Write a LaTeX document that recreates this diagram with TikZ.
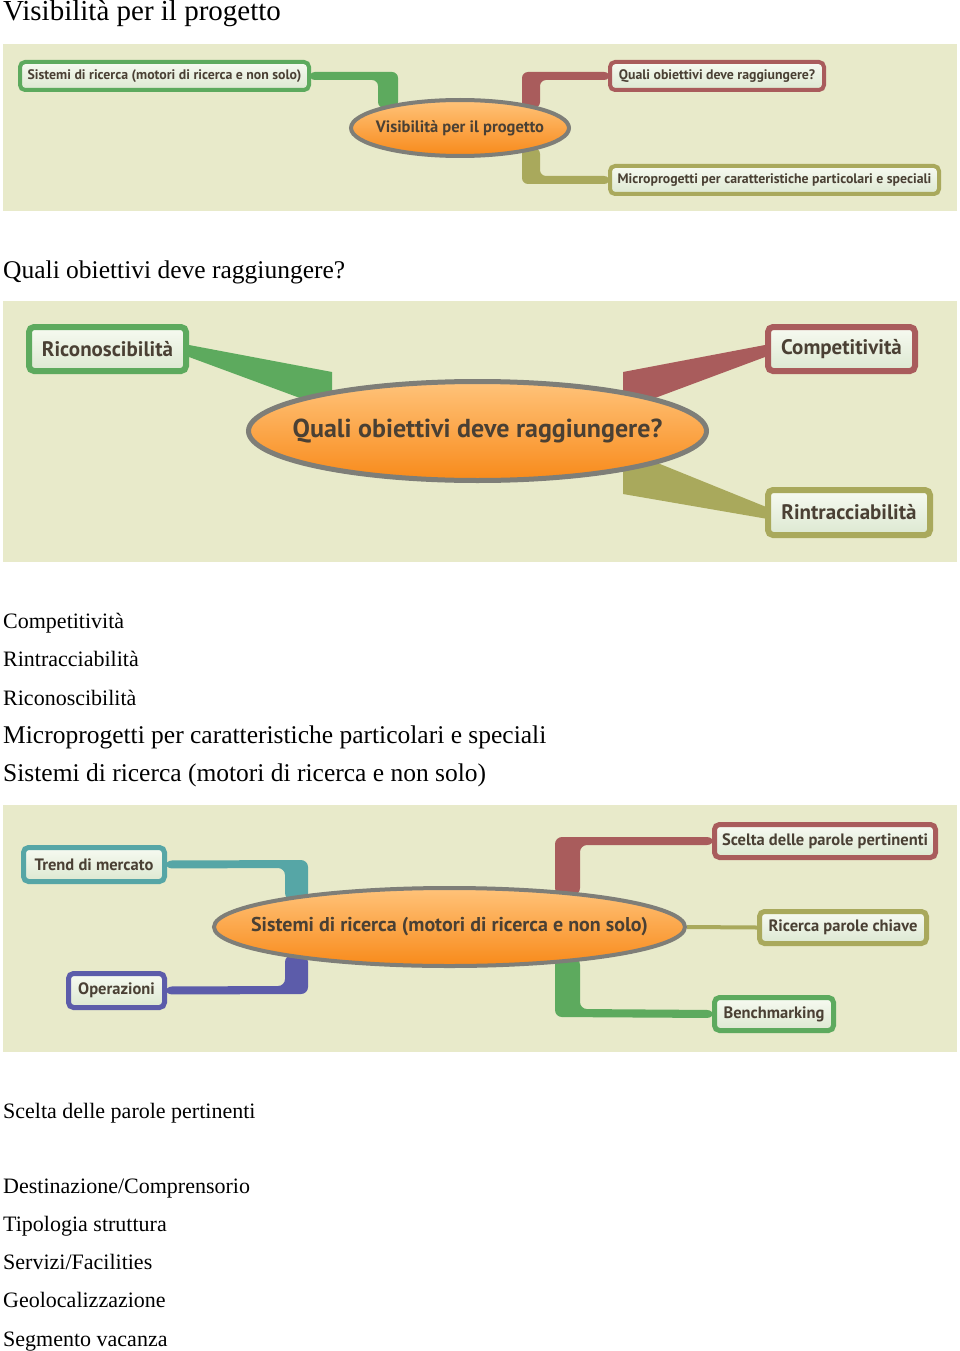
\documentclass[tikz,border=0pt]{standalone}
\usepackage{fontspec}
\setmainfont{Liberation Serif}
\newfontfamily\mapfont{PT Sans}
\usetikzlibrary{shapes.geometric,calc}
\definecolor{panel}{HTML}{E8EACA}
\definecolor{ringgray}{HTML}{7E7E78}
\definecolor{orangetop}{HTML}{FFC37A}
\definecolor{orangebot}{HTML}{F88A1A}
\definecolor{boxtop}{HTML}{F7FAF1}
\definecolor{boxbot}{HTML}{DCE8D1}
\definecolor{maptext}{HTML}{4A4034}
\definecolor{brgreen}{HTML}{5DAA5E}
\definecolor{brred}{HTML}{A95C5C}
\definecolor{brolive}{HTML}{A9A95C}
\definecolor{brteal}{HTML}{56A6A6}
\definecolor{brblue}{HTML}{5C5CAA}
\pgfdeclarelayer{back}
\pgfdeclarelayer{mid}
\pgfsetlayers{back,mid,main}
% text that does not widen the ellipse
\newcommand{\maptitle}[1]{\makebox[0pt][c]{#1}}

\begin{document}
\begin{tikzpicture}[x=1pt,y=-1pt,
	map font/.style={font=\mapfont\bfseries\fontsize{#1}{#1}\selectfont,text=maptext},
	main node/.style={ellipse,draw=ringgray,line width=4pt,top color=orangetop,bottom color=orangebot,inner sep=0pt},
	leaf/.style={rectangle,draw=#1,rounded corners=5pt,top color=boxtop,bottom color=boxbot,inner sep=0pt},
	plain/.style={anchor=base west,inner sep=0pt,font=\fontsize{#1}{#1}\selectfont}]
	\useasboundingbox (0,0) rectangle (960,1351);
	\begin{pgfonlayer}{back}
		\fill[white] (0,0) rectangle (960,1351);
		\fill[panel] (3,44) rectangle (957,211);
		\fill[panel] (3,301) rectangle (957,562);
		\fill[panel] (3,805) rectangle (957,1052);
	\end{pgfonlayer}
	
	% first map
	\node[main node,map font=16.5,minimum width=218pt,minimum height=56pt] (vis) at (460,128) {\maptitle{Visibilità per il progetto}};
	\node[leaf=brgreen,line width=4pt,map font=13.8,minimum width=289pt,minimum height=28pt] (sis) at (164.5,76) {Sistemi di ricerca (motori di ricerca e non solo)};
	\node[leaf=brred,line width=4pt,map font=13.8,minimum width=214pt,minimum height=28pt] (obj) at (717,76) {Quali obiettivi deve raggiungere?};
	\node[leaf=brolive,line width=4pt,map font=13.8,minimum width=329pt,minimum height=28pt] (mic) at (774.5,180) {Microprogetti per caratteristiche particolari e speciali};
	\begin{pgfonlayer}{mid}
		\fill[brgreen,rounded corners=6pt] ($(sis.east)+(-2,-4)$) -- (398,72) -- (398,108) -- (378,108) -- (378,80) -- ($(sis.east)+(-2,4)$) -- cycle;
		\fill[brred,rounded corners=6pt] ($(obj.west)+(2,-4)$) -- (522,72) -- (522,108) -- (540,108) -- (540,80) -- ($(obj.west)+(2,4)$) -- cycle;
		\fill[brolive,rounded corners=6pt] (522,148) -- (522,184) -- ($(mic.west)+(2,4)$) -- ($(mic.west)+(2,-4)$) -- (540,176) -- (540,148) -- cycle;
	\end{pgfonlayer}
	
	% second map
	\node[main node,line width=5pt,map font=26,minimum width=458pt,minimum height=99pt] (goal) at (477.5,431) {\maptitle{Quali obiettivi deve raggiungere?}};
	\node[leaf=brgreen,line width=6pt,map font=21,minimum width=157pt,minimum height=44pt] (ric) at (107.5,349) {Riconoscibilità};
	\node[leaf=brred,line width=6pt,map font=21,minimum width=147pt,minimum height=44pt] (com) at (841.5,349) {Competitività};
	\node[leaf=brolive,line width=6pt,map font=21,minimum width=162pt,minimum height=45pt] (rin) at (849,512.5) {Rintracciabilità};
	\begin{pgfonlayer}{mid}
		\fill[brgreen] ($(ric.east)+(0,-4)$) -- (332,372) -- (332,392) -- (300,398) -- ($(ric.east)+(0,8)$) -- cycle;
		\fill[brred] ($(com.west)+(0,-4)$) -- (623,372) -- (623,392) -- (655,398) -- ($(com.west)+(0,8)$) -- cycle;
		\fill[brolive] (623,466) -- (660,464) -- ($(rin.west)+(0,-6)$) -- ($(rin.west)+(0,6)$) -- (623,494) -- cycle;
	\end{pgfonlayer}
	
	% third map
	\node[main node,map font=20,minimum width=471pt,minimum height=78pt] (eng) at (449.5,927) {\maptitle{Sistemi di ricerca (motori di ricerca e non solo)}};
	\node[leaf=brteal,line width=5pt,map font=16.5,minimum width=141pt,minimum height=34pt] (tre) at (94,864.5) {Trend di mercato};
	\node[leaf=brblue,line width=5pt,map font=16.5,minimum width=96pt,minimum height=34pt] (ope) at (116.5,990.5) {Operazioni};
	\node[leaf=brred,line width=5pt,map font=16.5,minimum width=221pt,minimum height=33pt] (sce) at (825,841) {Scelta delle parole pertinenti};
	\node[leaf=brolive,line width=5pt,map font=16.5,minimum width=167pt,minimum height=32pt] (par) at (843,927.5) {Ricerca parole chiave};
	\node[leaf=brgreen,line width=5pt,map font=16.5,minimum width=119pt,minimum height=33pt] (ben) at (774,1014) {Benchmarking};
	\begin{pgfonlayer}{mid}
		\fill[brteal,rounded corners=7pt] ($(tre.east)+(-2,-4)$) -- (308,860) -- (308,900) -- (285,900) -- (285,868) -- ($(tre.east)+(-2,4)$) -- cycle;
		\fill[brblue,rounded corners=7pt] ($(ope.east)+(-2,4)$) -- (308,994) -- (308,955) -- (285,955) -- (285,986) -- ($(ope.east)+(-2,-4)$) -- cycle;
		\fill[brred,rounded corners=7pt] ($(sce.west)+(2,-4)$) -- (555,837) -- (555,895) -- (580,895) -- (580,845) -- ($(sce.west)+(2,4)$) -- cycle;
		\fill[brgreen,rounded corners=7pt] (555,958) -- (555,1017) -- ($(ben.west)+(2,4)$) -- ($(ben.west)+(2,-4)$) -- (580,1009) -- (580,958) -- cycle;
		\draw[brolive,line width=4pt] (eng.east) -- (par.west);
	\end{pgfonlayer}
	
	% plain text
	\node[plain=29] (h1) at (3,21) {Visibilità per il progetto};
	\node[plain=25.5] (h2) at (3,278) {Quali obiettivi deve raggiungere?};
	\node[plain=22] (l1) at (3,628) {Competitività};
	\node[plain=22] (l2) at (3,666) {Rintracciabilità};
	\node[plain=22] (l3) at (3,705) {Riconoscibilità};
	\node[plain=25.5] (l4) at (3,743) {Microprogetti per caratteristiche particolari e speciali};
	\node[plain=25.5] (l5) at (3,781) {Sistemi di ricerca (motori di ricerca e non solo)};
	\node[plain=22] (h3) at (3,1118) {Scelta delle parole pertinenti};
	\node[plain=22] (k1) at (3,1193) {Destinazione/Comprensorio};
	\node[plain=22] (k2) at (3,1231) {Tipologia struttura};
	\node[plain=22] (k3) at (3,1269) {Servizi/Facilities};
	\node[plain=22] (k4) at (3,1307) {Geolocalizzazione};
	\node[plain=22] (k5) at (3,1346) {Segmento vacanza};
\end{tikzpicture}
\end{document}
